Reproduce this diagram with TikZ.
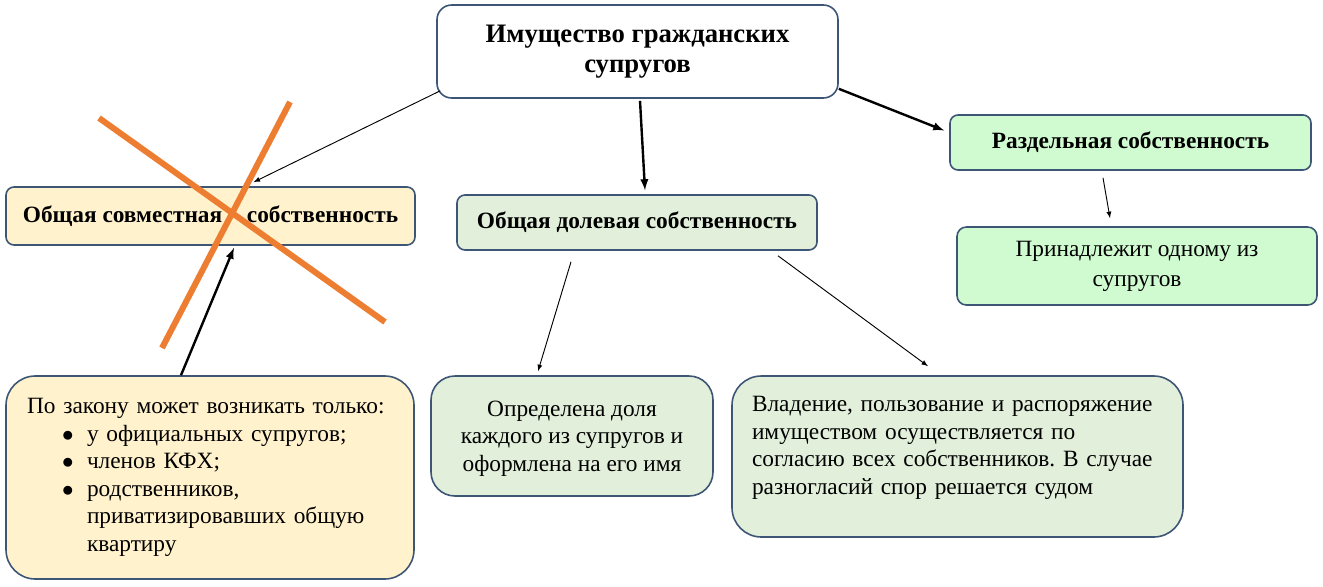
\documentclass[tikz,border=0pt]{standalone}
\usepackage{fontspec}
\setmainfont{Liberation Serif}
\frenchspacing
\usepackage{tikz}
\usetikzlibrary{calc, shapes, arrows}
\definecolor{boxline}{RGB}{62,86,118}
\definecolor{jointfill}{RGB}{255,242,204}
\definecolor{sharefill}{RGB}{226,239,218}
\definecolor{sepfill}{RGB}{208,250,208}
\definecolor{crossorange}{RGB}{237,125,49}
\newcommand\bodysize{\fontsize{17.5pt}{20.6pt}\selectfont}
\newcommand\headsize{\fontsize{17.5pt}{20.6pt}\selectfont\bfseries}
\newcommand\titlesize{\fontsize{20pt}{22.5pt}\selectfont\bfseries}
\newcommand\lawitem[1]{\hspace*{26.25pt}\makebox[18.75pt][l]{$\bullet$}#1}
\tikzset{
  propbox/.style={draw=boxline, line width=1.2pt, inner sep=0pt, align=center},
  thinarrow/.style={-latex, line width=0.7pt},
  thickarrow/.style={-latex, line width=1.8pt},
  crossline/.style={draw=crossorange, line width=4.5pt}
}

\begin{document}
\begin{tikzpicture}[x=0.75pt, y=-0.75pt]
\useasboundingbox (0,0) rectangle (1323,586);
\node[propbox, fill=white, rounded corners=11pt, minimum width=300.75pt, minimum height=69.75pt, font=\titlesize] (title) at (637.5,51.5) {Имущество гражданских\\супругов};
\node[propbox, fill=jointfill, rounded corners=6pt, minimum width=306.75pt, minimum height=43.5pt, font=\headsize] (joint) at (210.5,216) {Общая совместная\hspace{18.5pt}собственность};
\node[propbox, fill=sharefill, rounded corners=6pt, minimum width=270pt, minimum height=41.25pt, font=\headsize] (shared) at (637,222.5) {Общая долевая собственность};
\node[propbox, fill=sepfill, rounded corners=6pt, minimum width=270.75pt, minimum height=41.25pt, font=\headsize] (separate) at (1130.5,142.5) {Раздельная собственность};
\node[propbox, fill=sepfill, rounded corners=7pt, minimum width=270pt, minimum height=58.5pt, font={\fontsize{17.5pt}{22.5pt}\selectfont}] (onespouse) at (1137,266) {Принадлежит одному из\\супругов};
\node[propbox, fill=jointfill, rounded corners=22pt, minimum width=306pt, minimum height=152.25pt, text width=274.5pt, align=left, font=\bodysize] (law) at (210,477.5) {По закону может возникать только:\\
\lawitem{у официальных супругов;}\\
\lawitem{членов КФХ;}\\
\lawitem{родственников,}\\
\hspace*{45pt}приватизировавших общую\\
\hspace*{45pt}квартиру};
\node[propbox, fill=sharefill, rounded corners=18pt, minimum width=211.5pt, minimum height=90pt, font=\bodysize] (sharedef) at (572,436) {\rule{0pt}{15.5pt}Определена доля\\каждого из супругов и\\оформлена на его имя};
\node[propbox, fill=sharefill, rounded corners=22pt, minimum width=338.25pt, minimum height=120.75pt, text width=308.25pt, align=left, font=\bodysize] (sharerule) at (957.5,456.5) {Владение, пользование и распоряжение\\
имуществом осуществляется по\\
согласию всех собственников. В случае\\
разногласий спор решается судом\rule[-17pt]{0pt}{1pt}};

\draw[thinarrow] ($(title.south west)+(4,-8)$) -- ($(joint.north)+(43,-4)$);
\draw[thickarrow] ($(title.south)+(2.5,2)$) -- ($(shared.north)+(8,-4)$);
\draw[thickarrow] ($(title.south east)+(0,-10)$) -- ($(separate.west)+(-5,-12)$);
\draw[thinarrow] ($(separate.south)+(-27.5,7)$) -- ($(onespouse.north)+(-27,-8)$);
\draw[thinarrow] ($(shared.south)+(-66,11)$) -- ($(sharedef.north)+(-34,-4)$);
\draw[thinarrow] ($(shared.south)+(141,5)$) -- ($(sharerule.north)+(-29.5,-9)$);
\draw[thickarrow] ($(law.north)+(-29,0)$) -- ($(joint.south)+(23.5,2)$);

\draw[crossline] (99,118) -- (385,322);
\draw[crossline] (290,102) -- (162,348);
\end{tikzpicture}
\end{document}
